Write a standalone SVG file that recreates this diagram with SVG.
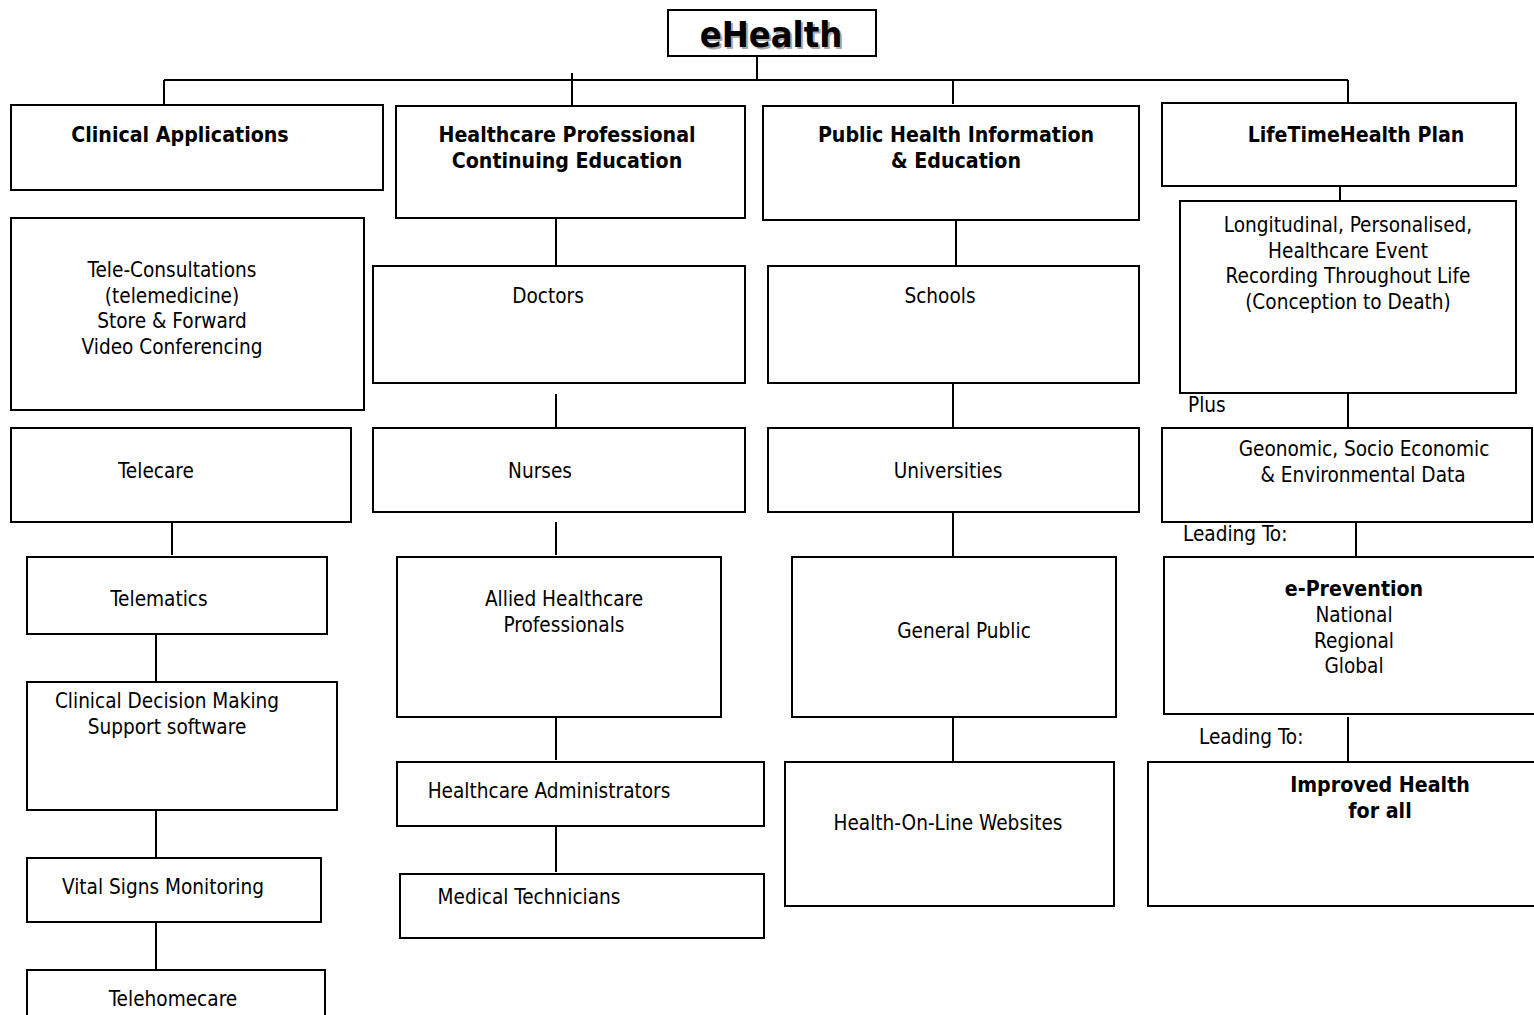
<svg xmlns="http://www.w3.org/2000/svg" width="1534" height="1015" viewBox="0 0 1534 1015">
<style>
rect.b{fill:#fff;stroke:#000;stroke-width:2}
.c line{stroke:#000;stroke-width:2}
text{font-family:"DejaVu Sans Condensed","DejaVu Sans",sans-serif;font-size:20.6px;fill:#000}
.m{text-anchor:middle}
.bd{font-weight:bold;font-size:21.2px}
.t{font-size:36px;font-weight:bold}
.sh{fill:#aaa}
</style>
<rect width="1534" height="1015" fill="#fff"/>
<g class="c" id="connectors">
<line x1="757" y1="56" x2="757" y2="80"/>
<line x1="164" y1="80" x2="1348" y2="80"/>
<line x1="164" y1="80" x2="164" y2="105"/>
<line x1="572" y1="73" x2="572" y2="106"/>
<line x1="953" y1="80" x2="953" y2="104"/>
<line x1="1348" y1="80" x2="1348" y2="103"/>
<line x1="172" y1="522" x2="172" y2="555"/>
<line x1="156" y1="634" x2="156" y2="681"/>
<line x1="156" y1="810" x2="156" y2="857"/>
<line x1="156" y1="922" x2="156" y2="969"/>
<line x1="556" y1="218" x2="556" y2="265"/>
<line x1="556" y1="394" x2="556" y2="427"/>
<line x1="556" y1="522" x2="556" y2="555"/>
<line x1="556" y1="713" x2="556" y2="760"/>
<line x1="556" y1="826" x2="556" y2="872"/>
<line x1="956" y1="217" x2="956" y2="265"/>
<line x1="953" y1="383" x2="953" y2="427"/>
<line x1="953" y1="512" x2="953" y2="556"/>
<line x1="953" y1="717" x2="953" y2="761"/>
<line x1="1340" y1="186" x2="1340" y2="201"/>
<line x1="1348" y1="383" x2="1348" y2="427"/>
<line x1="1356" y1="522" x2="1356" y2="556"/>
<line x1="1348" y1="717" x2="1348" y2="761"/>
</g>
<g id="ehealth"><rect class="b" x="668" y="10" width="208" height="46"/><text class="m t sh" x="773" y="49">eHealth</text><text class="m t" x="771" y="47">eHealth</text></g>
<g id="clinical-applications"><rect class="b" x="11" y="105" width="372" height="85"/><text class="m bd" x="180" y="142">Clinical Applications</text></g>
<g id="hpce"><rect class="b" x="396" y="106" width="349" height="112"/><text class="m bd" x="567" y="142">Healthcare Professional</text><text class="m bd" x="567" y="168">Continuing Education</text></g>
<g id="phie"><rect class="b" x="763" y="106" width="376" height="114"/><text class="m bd" x="956" y="142">Public Health Information</text><text class="m bd" x="956" y="168">&amp; Education</text></g>
<g id="lifetime"><rect class="b" x="1162" y="103" width="354" height="83"/><text class="m bd" x="1356" y="142">LifeTimeHealth Plan</text></g>
<g id="tele-consultations"><rect class="b" x="11" y="218" width="353" height="192"/><text class="m" x="172" y="277">Tele-Consultations</text><text class="m" x="172" y="303">(telemedicine)</text><text class="m" x="172" y="328">Store &amp; Forward</text><text class="m" x="172" y="354">Video Conferencing</text></g>
<g id="telecare"><rect class="b" x="11" y="428" width="340" height="94"/><text class="m" x="156" y="478">Telecare</text></g>
<g id="telematics"><rect class="b" x="27" y="557" width="300" height="77"/><text class="m" x="159" y="606">Telematics</text></g>
<g id="cdm"><rect class="b" x="27" y="682" width="310" height="128"/><text class="m" x="167" y="708">Clinical Decision Making</text><text class="m" x="167" y="734">Support software</text></g>
<g id="vital"><rect class="b" x="27" y="858" width="294" height="64"/><text class="m" x="163" y="894">Vital Signs Monitoring</text></g>
<g id="telehomecare"><rect class="b" x="27" y="970" width="298" height="60"/><text class="m" x="173" y="1006">Telehomecare</text></g>
<g id="doctors"><rect class="b" x="373" y="266" width="372" height="117"/><text class="m" x="548" y="303">Doctors</text></g>
<g id="nurses"><rect class="b" x="373" y="428" width="372" height="84"/><text class="m" x="540" y="478">Nurses</text></g>
<g id="allied"><rect class="b" x="397" y="557" width="324" height="160"/><text class="m" x="564" y="606">Allied Healthcare</text><text class="m" x="564" y="632">Professionals</text></g>
<g id="admins"><rect class="b" x="397" y="762" width="367" height="64"/><text class="m" x="549" y="798">Healthcare Administrators</text></g>
<g id="medtech"><rect class="b" x="400" y="874" width="364" height="64"/><text class="m" x="529" y="904">Medical Technicians</text></g>
<g id="schools"><rect class="b" x="768" y="266" width="371" height="117"/><text class="m" x="940" y="303">Schools</text></g>
<g id="universities"><rect class="b" x="768" y="428" width="371" height="84"/><text class="m" x="948" y="478">Universities</text></g>
<g id="general-public"><rect class="b" x="792" y="557" width="324" height="160"/><text class="m" x="964" y="638">General Public</text></g>
<g id="websites"><rect class="b" x="785" y="762" width="329" height="144"/><text class="m" x="948" y="830">Health-On-Line Websites</text></g>
<g id="longitudinal"><rect class="b" x="1180" y="201" width="336" height="192"/><text class="m" x="1348" y="232">Longitudinal, Personalised,</text><text class="m" x="1348" y="258">Healthcare Event</text><text class="m" x="1348" y="283">Recording Throughout Life</text><text class="m" x="1348" y="309">(Conception to Death)</text></g>
<text x="1188" y="412">Plus</text>
<g id="geonomic"><rect class="b" x="1162" y="428" width="370" height="94"/><text class="m" x="1364" y="456">Geonomic, Socio Economic</text><text class="m" x="1363" y="482">&amp; Environmental Data</text></g>
<text x="1183" y="541">Leading To:</text>
<g id="eprevention"><rect class="b" x="1164" y="557" width="380" height="157"/><text class="m bd" x="1354" y="596">e-Prevention</text><text class="m" x="1354" y="622">National</text><text class="m" x="1354" y="648">Regional</text><text class="m" x="1354" y="673">Global</text></g>
<text x="1199" y="744">Leading To:</text>
<g id="improved"><rect class="b" x="1148" y="762" width="396" height="144"/><text class="m bd" x="1380" y="792">Improved Health</text><text class="m bd" x="1380" y="818">for all</text></g>
</svg>
